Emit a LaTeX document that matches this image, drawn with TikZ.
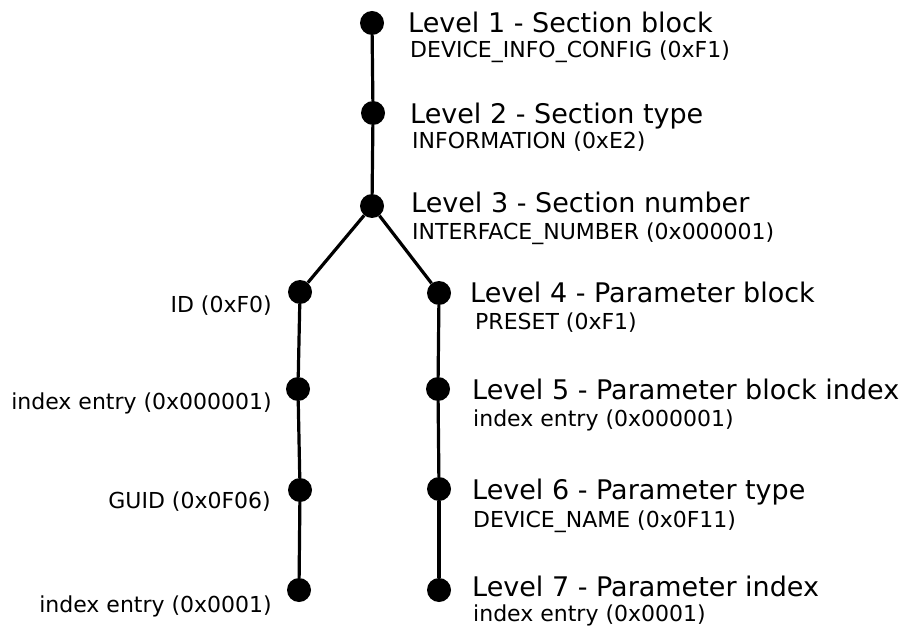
\documentclass[tikz,border=0pt]{standalone}
\usepackage{fontspec}
\setmainfont{DejaVu Sans}
\usepackage{xcolor}

\tikzset{
  dot/.style={circle,fill=black,minimum size=24pt,inner sep=0pt},
  lvl/.style={anchor=base west,inner sep=0pt,font=\fontsize{27}{32}\selectfont},
  info/.style={anchor=base west,inner sep=0pt,font=\fontsize{22}{26}\selectfont},
  side/.style={anchor=base east,inner sep=0pt,font=\fontsize{22}{26}\selectfont}
}

\begin{document}
\begin{tikzpicture}[x=1pt,y=-1pt]
  \useasboundingbox (0,0) rectangle (904,628);

  % trunk
  \node[dot] (l1) at (372,23) {};
  \node[dot] (l2) at (373,113) {};
  \node[dot] (l3) at (372,206) {};
  % parameter branch
  \node[dot] (l4) at (439,293) {};
  \node[dot] (l5) at (438,389) {};
  \node[dot] (l6) at (439,489) {};
  \node[dot] (l7) at (439,590) {};
  % id branch
  \node[dot] (d1) at (300,292) {};
  \node[dot] (d2) at (298,389) {};
  \node[dot] (d3) at (300,490) {};
  \node[dot] (d4) at (299,590) {};

  \path[draw,line width=3.2pt]
    (l1) edge (l2)
    (l2) edge (l3)
    (l3) edge (l4)
         edge (d1)
    (l4) edge (l5)
    (l5) edge (l6)
    (l6) edge (l7)
    (d1) edge (d2)
    (d2) edge (d3)
    (d3) edge (d4);

  \node[lvl]  (t1) at (408,33)  {Level 1 - Section block};
  \node[info] (s1) at (410,58)  {DEVICE\_INFO\_CONFIG (0xF1)};
  \node[lvl]  (t2) at (410,124) {Level 2 - Section type};
  \node[info] (s2) at (412,149) {INFORMATION (0xE2)};
  \node[lvl]  (t3) at (411,213) {Level 3 - Section number};
  \node[info] (s3) at (412,240) {INTERFACE\_NUMBER (0x000001)};
  \node[lvl]  (t4) at (470,302) {Level 4 - Parameter block};
  \node[info] (s4) at (475,329) {PRESET (0xF1)};
  \node[lvl]  (t5) at (472,399) {Level 5 - Parameter block index};
  \node[info] (s5) at (473,426) {index entry (0x000001)};
  \node[lvl]  (t6) at (472,499) {Level 6 - Parameter type};
  \node[info] (s6) at (473,527) {DEVICE\_NAME (0x0F11)};
  \node[lvl]  (t7) at (472,596) {Level 7 - Parameter index};
  \node[info] (s7) at (473,621) {index entry (0x0001)};

  \node[side] (e1) at (272,312) {ID (0xF0)};
  \node[side] (e2) at (272,409) {index entry (0x000001)};
  \node[side] (e3) at (271,508) {GUID (0x0F06)};
  \node[side] (e4) at (272,612) {index entry (0x0001)};
\end{tikzpicture}
\end{document}
